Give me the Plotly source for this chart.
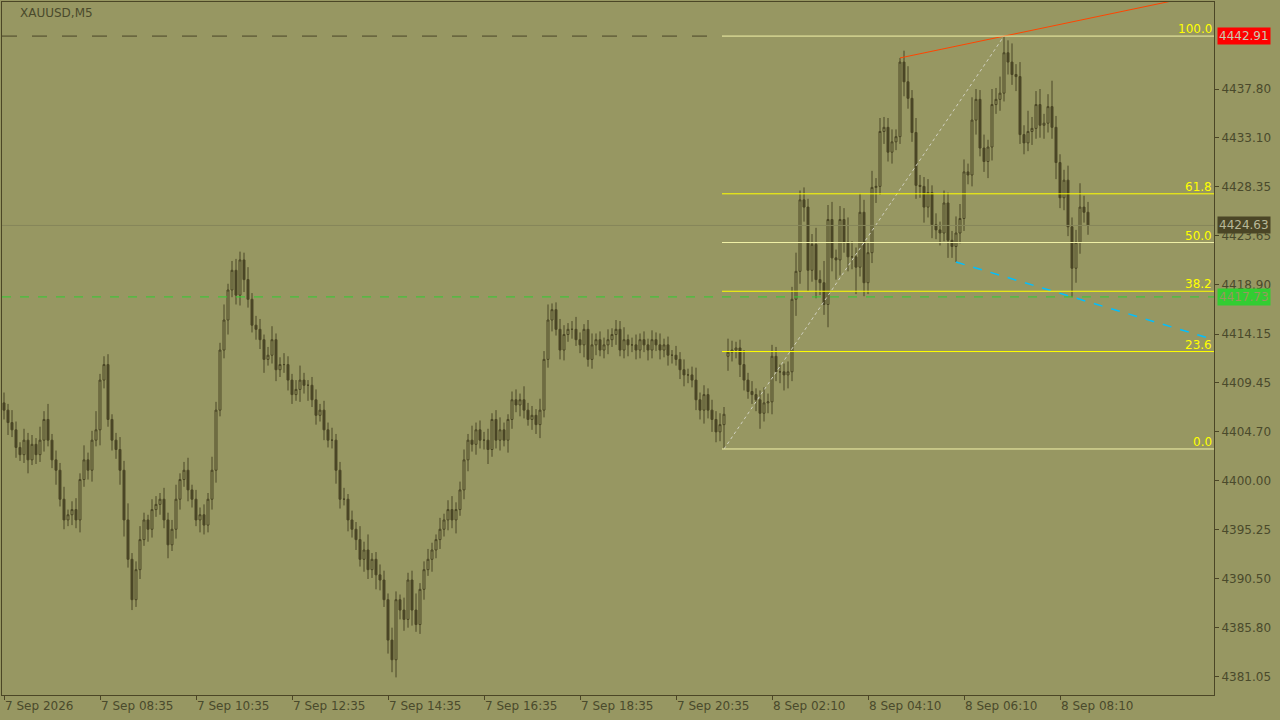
import plotly.graph_objects as go

# XAUUSD M5 candles (opens follow the previous close)
first_open = 4407.5
closes = [
    4406.8, 4405.6, 4404.9, 4403.2, 4402.5, 4403.9, 4402.0, 4403.5, 4402.5, 4403.9, 4405.9, 4403.9,
    4402.0, 4401.0, 4398.2, 4396.2, 4396.7, 4397.2, 4396.2, 4400.1, 4402.0, 4401.0,
    4403.9, 4404.9, 4409.7, 4411.2, 4405.9, 4403.9, 4403.0, 4401.0, 4396.2, 4392.4,
    4388.5, 4391.4, 4394.3, 4396.2, 4395.3, 4397.2, 4397.7, 4398.2, 4396.2, 4393.8,
    4395.3, 4398.2, 4400.1, 4401.0, 4399.1, 4398.2, 4396.2, 4396.7, 4395.7, 4398.2,
    4401.0, 4406.8, 4412.6, 4415.5, 4418.4, 4420.3, 4417.9, 4421.3, 4419.4, 4417.5,
    4415.0, 4414.6, 4413.6, 4411.7, 4412.1, 4413.6, 4410.7, 4411.2, 4411.2, 4409.7,
    4408.3, 4408.8, 4409.7, 4409.2, 4409.2, 4407.8, 4406.3, 4406.8, 4404.9, 4403.9,
    4403.9, 4401.0, 4398.2, 4398.2, 4396.2, 4395.3, 4394.3, 4392.4, 4393.3, 4391.4,
    4392.4, 4390.9, 4390.4, 4388.5, 4384.6, 4382.7, 4388.5, 4387.5, 4386.6, 4390.4,
    4387.5, 4386.1, 4389.5, 4391.4, 4392.4, 4393.3, 4394.3, 4395.3, 4396.2, 4397.2,
    4396.2, 4397.2, 4399.1, 4402.0, 4403.9, 4403.5, 4404.9, 4403.9, 4403.9, 4403.0,
    4405.9, 4403.9, 4404.9, 4403.9, 4405.9, 4407.8, 4407.3, 4407.8, 4406.8, 4405.9,
    4406.3, 4405.4, 4406.8, 4411.7, 4415.5, 4416.5, 4414.6, 4412.6, 4414.1, 4414.6,
    4414.6, 4413.6, 4413.1, 4414.6, 4411.7, 4413.1, 4413.6, 4412.6, 4413.1, 4413.6,
    4414.1, 4414.6, 4412.6, 4413.6, 4413.1, 4413.1, 4412.6, 4413.6, 4413.1, 4412.6,
    4413.6, 4413.1, 4412.6, 4413.1, 4412.1, 4412.1, 4411.7, 4410.7, 4410.2, 4410.2,
    4409.7, 4407.8, 4406.8, 4408.3, 4406.8, 4405.9, 4404.7, 4405.4, 4406.4,
    4412.4, 4412.6, 4412.8, 4411.2, 4409.7, 4408.6, 4408.3, 4407.8, 4406.5, 4407.5, 4407.6,
    4412.0, 4410.5, 4410.5, 4410.2, 4410.5, 4417.5, 4420.2, 4427.1, 4426.4, 4420.3,
    4422.8, 4419.4, 4419.1, 4417.0, 4425.2, 4421.5, 4421.3, 4425.2, 4423.0, 4421.6,
    4421.6, 4420.6, 4425.9, 4419.1, 4422.0, 4428.3, 4428.4, 4433.7, 4434.1, 4431.7,
    4432.7, 4433.2, 4440.4, 4438.5, 4436.9, 4433.6, 4428.5, 4428.4, 4426.4, 4427.8,
    4424.7, 4424.2, 4423.9, 4426.8, 4423.2, 4422.6, 4423.9, 4425.3, 4429.8, 4429.5,
    4434.8, 4436.8, 4432.1, 4430.8, 4432.2, 4436.3, 4436.8, 4437.4, 4441.3, 4440.4,
    4439.2, 4439.0, 4433.4, 4432.6, 4433.7, 4434.0, 4436.3, 4434.3, 4434.5, 4436.1,
    4434.1, 4430.7, 4427.3, 4429.0, 4424.5, 4420.5, 4423.0, 4426.4, 4425.9, 4424.63,
]
wick_up = [
    1.0, 0.6, 1.2, 0.8, 0.5, 1.1, 0.7, 0.9, 0.6, 1.3,
    0.8, 1.5, 0.6, 0.9, 0.7, 1.2, 0.5, 0.8, 1.1, 0.6,
    1.4, 0.7, 0.9, 1.8, 0.6, 0.8, 1.0, 0.5, 0.7, 1.2,
    0.9, 1.6, 0.6, 0.8, 1.3, 0.7, 0.5, 1.0, 0.8, 0.6,
    1.1, 0.7, 0.9, 1.4, 0.6, 0.8, 1.2, 0.5, 0.9, 0.7,
    1.0, 0.6, 1.3, 0.8, 0.7, 1.5, 0.6, 0.9, 1.1, 0.8,
    0.7, 1.2, 0.6, 0.9, 1.0, 0.5, 0.8, 1.3, 0.6, 0.7,
    1.1, 0.8, 0.6, 0.9, 1.4, 0.7, 0.5, 0.8, 1.0, 0.6,
    0.9, 0.7, 1.2, 0.6, 0.8, 1.1, 0.5, 0.9, 0.7, 1.3,
    0.8, 1.5, 0.6, 0.7, 1.0, 0.9, 0.6, 1.2, 0.8, 0.5,
    1.2, 0.7, 0.9, 1.6, 0.6, 0.8, 1.0, 0.7, 0.5, 1.1,
    0.6, 0.9, 1.3, 0.7, 0.8, 1.0, 0.6, 1.4, 0.7, 0.9,
    0.8, 1.1, 0.6, 0.9, 1.2, 0.7, 0.5, 0.8, 1.0, 0.6,
    1.3, 0.7, 0.9, 0.6, 1.1, 0.8, 1.5, 0.6, 0.7, 1.0,
    0.9, 0.6, 0.8, 1.2, 0.7, 0.5, 0.9, 1.1, 0.6, 0.8,
    0.7, 1.0, 0.6, 0.9, 0.8, 1.2, 0.5, 0.7, 1.0, 0.6,
    0.8, 0.6, 0.9, 0.7, 1.1, 0.6, 0.8, 0.5, 0.9, 0.7,
    1.0, 0.6, 0.8, 1.2, 0.7, 0.9, 0.6, 1.0, 0.8, 1.1,
    0.7, 1.3, 0.9, 0.6, 0.8, 1.4, 0.7, 1.0, 0.6, 0.9,
    1.5, 0.8, 1.1, 0.9, 0.7, 0.8, 1.0, 1.2, 1.8, 0.9,
    1.2, 0.8, 1.0, 1.6, 0.9, 2.1, 1.4, 1.7, 0.8, 1.3,
    1.1, 2.4, 1.5, 0.9, 1.8, 1.2, 1.0, 1.6, 0.8, 1.3,
    1.0, 0.9, 1.2, 0.7, 0.4, 1.1, 1.5, 0.8, 1.4, 1.0,
    0.9, 1.3, 0.7, 1.1, 0.8, 1.2, 1.0, 0.9, 1.6, 1.4,
    1.2, 0.8, 2.2, 1.0, 0.9, 1.3, 0.7, 1.5, 1.1, 1.6,
    1.6, 1.2, 1.8, 1.0, 1.4, 0.9, 2.0, 1.1, 1.3, 1.5,
    0.9, 1.2, 2.5, 1.1, 0.8, 1.0, 1.4, 0.9, 1.2, 2.3,
    1.1, 1.0,
]
wick_dn = [
    0.9, 1.2, 0.7, 1.0, 0.6, 0.8, 1.3, 0.5, 0.9, 0.7,
    1.1, 0.6, 0.8, 1.4, 0.7, 0.9, 0.6, 1.0, 0.8, 1.2,
    0.7, 0.9, 1.1, 0.6, 1.5, 0.8, 0.7, 1.0, 0.9, 1.4,
    1.6, 0.8, 1.0, 0.7, 0.9, 0.6, 1.2, 0.8, 0.7, 1.0,
    0.8, 1.3, 0.6, 0.9, 1.0, 0.7, 1.1, 0.8, 0.6, 1.2,
    0.9, 0.7, 1.0, 1.2, 0.6, 0.8, 1.4, 0.7, 0.9, 1.0,
    1.2, 0.8, 0.7, 1.0, 0.9, 1.3, 0.6, 0.8, 1.1, 0.7,
    0.8, 1.0, 0.9, 0.6, 1.2, 0.8, 1.5, 0.7, 0.9, 0.6,
    1.0, 0.7, 0.8, 1.3, 0.9, 0.6, 1.1, 0.8, 1.0, 0.7,
    1.2, 0.9, 0.8, 1.4, 1.0, 0.7, 1.3, 1.2, 1.7, 0.9,
    1.1, 0.8, 1.5, 0.7, 0.9, 1.0, 0.6, 1.2, 0.8, 0.9,
    0.7, 1.0, 0.8, 1.3, 0.6, 0.9, 1.1, 0.7, 1.0, 0.8,
    0.9, 1.4, 0.7, 0.8, 1.0, 0.6, 1.2, 0.9, 0.7, 1.1,
    0.8, 0.6, 1.0, 0.9, 1.3, 0.7, 0.8, 1.1, 0.6, 0.9,
    1.0, 0.7, 0.9, 0.6, 0.8, 1.2, 0.7, 0.9, 1.0, 0.6,
    0.8, 0.9, 0.7, 1.0, 0.6, 0.8, 1.1, 0.7, 0.9, 0.8,
    0.7, 1.0, 0.8, 0.6, 0.9, 0.7, 1.0, 0.8, 0.6, 0.9,
    1.1, 0.8, 0.7, 1.0, 0.9, 1.3, 0.8, 1.2, 1.0, 0.9,
    2.35, 1.4, 0.9, 0.8, 1.2, 1.0, 0.7, 0.9, 1.1, 1.5,
    0.8, 1.0, 1.2, 0.9, 1.1, 1.5, 1.3, 0.9, 1.6, 1.2,
    1.4, 2.0, 1.1, 1.8, 1.2, 1.0, 2.2, 1.3, 1.9, 1.5,
    1.0, 1.4, 1.2, 2.6, 0.9, 1.3, 1.1, 1.0, 1.5, 0.8,
    1.2, 0.9, 1.1, 0.8, 0.7, 1.4, 1.0, 0.9, 1.3, 1.1,
    1.5, 1.0, 1.3, 0.9, 1.2, 0.8, 1.7, 1.1, 1.5, 1.0,
    1.2, 0.9, 1.1, 1.4, 0.8, 1.0, 1.6, 1.3, 0.9, 1.1,
    0.8, 1.2, 1.0, 1.4, 0.9, 1.1, 0.8, 1.3, 1.0, 1.2,
    1.3, 0.9, 1.1, 1.6, 1.0, 1.2, 0.9, 2.8, 1.4, 1.1,
    1.0, 0.9,
]
tick_idx = [0, 24, 48, 72, 96, 120, 144, 168, 192, 216, 240, 264]
tick_text = ['7 Sep 2026', '7 Sep 08:35', '7 Sep 10:35', '7 Sep 12:35', '7 Sep 14:35',
             '7 Sep 16:35', '7 Sep 18:35', '7 Sep 20:35', '8 Sep 02:10', '8 Sep 04:10',
             '8 Sep 06:10', '8 Sep 08:10']
price_ticks = [4437.80, 4433.10, 4428.35, 4423.65, 4418.90, 4414.15, 4409.45,
               4404.70, 4400.00, 4395.25, 4390.50, 4385.80, 4381.05]
fib_levels = [0.0, 23.6, 38.2, 50.0, 61.8, 100.0]
fib_low, fib_high = 4403.05, 4442.91
last_price, bid_price = 4424.63, 4417.73
# trend line anchors (candle index, price)
orange_pts = ([224, 250, 292], [4440.8, 4442.91, 4446.3])
blue_pts = ([238, 267, 302.5], [4421.1, 4417.73, 4413.6])
fib_diag = ([180, 250], [fib_low, fib_high])

BG = '#979762'
DARK = '#4b4626'
TXT = '#4a4a2c'

opens = [first_open] + closes[:-1]
opens[181] = 4412.0  # session gap
highs = [max(o, c) + u for o, c, u in zip(opens, closes, wick_up)]
lows = [min(o, c) - d for o, c, d in zip(opens, closes, wick_dn)]
x = list(range(len(closes)))
x_end = 302.5

fig = go.Figure()
fig.add_trace(go.Candlestick(
    x=x, open=opens, high=highs, low=lows, close=closes,
    increasing=dict(line=dict(color=DARK, width=1), fillcolor=BG),
    decreasing=dict(line=dict(color=DARK, width=1), fillcolor=DARK),
    whiskerwidth=0, showlegend=False, hoverinfo='skip'))

# horizontal reference lines
fig.add_shape(type='line', x0=-0.5, x1=x_end, y0=last_price, y1=last_price,
              line=dict(color='#85855a', width=1))
fig.add_shape(type='line', x0=-0.5, x1=x_end, y0=bid_price, y1=bid_price,
              line=dict(color='#32cd32', width=1, dash='dash'))
fig.add_shape(type='line', x0=-0.5, x1=179.5, y0=fib_high, y1=fib_high,
              line=dict(color=DARK, width=1, dash='longdash'))

for lvl in fib_levels:
    p = fib_low + (fib_high - fib_low) * lvl / 100
    col = 'yellow' if lvl in (23.6, 38.2, 61.8) else '#f2f2a8'
    fig.add_shape(type='line', x0=179.5, x1=x_end, y0=p, y1=p,
                  line=dict(color=col, width=1))
    fig.add_annotation(x=x_end, y=p, text=f'{lvl:.1f}', showarrow=False,
                       xanchor='right', yanchor='bottom', yshift=-2,
                       font=dict(color='yellow', size=12, family='DejaVu Sans'))

fig.add_trace(go.Scatter(x=fib_diag[0], y=fib_diag[1], mode='lines',
                         line=dict(color='#d0d0c0', width=1, dash='dot'),
                         showlegend=False, hoverinfo='skip'))
fig.add_trace(go.Scatter(x=orange_pts[0], y=orange_pts[1], mode='lines',
                         line=dict(color='#ff4500', width=1),
                         showlegend=False, hoverinfo='skip'))
fig.add_trace(go.Scatter(x=blue_pts[0], y=blue_pts[1], mode='lines',
                         line=dict(color='#00bfff', width=1.5, dash='dash'),
                         showlegend=False, hoverinfo='skip'))

# price boxes on the axis
for p, bg, fg in [(fib_high, '#ff0000', '#c8c8b0'), (last_price, '#4b4626', '#b8b898'),
                  (bid_price, '#32cd32', '#97975f')]:
    fig.add_annotation(x=1, xref='paper', y=p, text=f'{p:.2f}', showarrow=False,
                       xanchor='left', xshift=3, bgcolor=bg, borderpad=1,
                       font=dict(color=fg, size=12, family='DejaVu Sans'))

fig.add_annotation(x=0, xref='paper', y=1, yref='paper', text='XAUUSD,M5',
                   showarrow=False, xanchor='left', yanchor='top', xshift=16, yshift=-2,
                   font=dict(color=TXT, size=12, family='DejaVu Sans'))

fig.update_layout(
    width=1280, height=720,
    margin=dict(l=2, r=66, t=2, b=25),
    paper_bgcolor=BG, plot_bgcolor=BG,
    font=dict(family='DejaVu Sans', size=12, color=TXT),
    xaxis=dict(range=[-0.5, x_end], tickvals=tick_idx, ticktext=tick_text,
               rangeslider=dict(visible=False), showgrid=False, zeroline=False,
               showline=True, linecolor=DARK, mirror=True, ticks='outside',
               ticklen=4, tickcolor=DARK, ticklabelposition='outside right'),
    yaxis=dict(range=[4379.3, 4446.2], side='right', tickvals=price_ticks,
               ticktext=[f'{v:.2f}' for v in price_ticks], showgrid=False,
               zeroline=False, showline=True, linecolor=DARK, mirror=True,
               ticks='outside', ticklen=4, tickcolor=DARK),
)

fig.write_html('out.html', config={'displayModeBar': False},
               post_script="document.body.style.margin='0';document.body.style.background='#979762';")
